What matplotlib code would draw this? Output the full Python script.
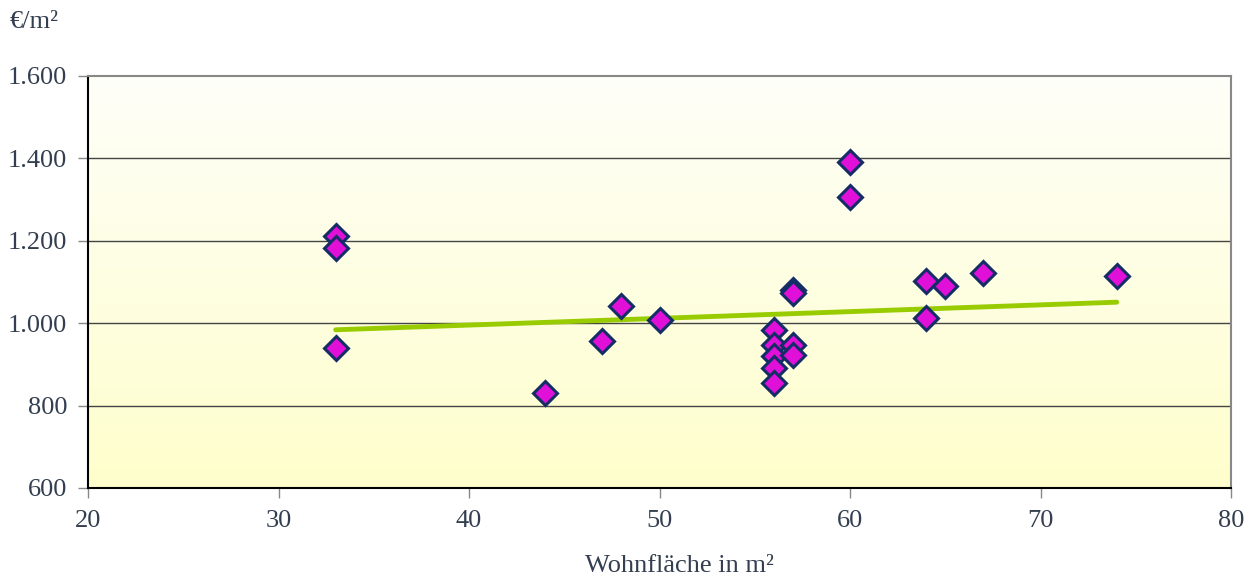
import numpy as np
import matplotlib
matplotlib.use("Agg")
import matplotlib.pyplot as plt
from matplotlib.colors import LinearSegmentedColormap

# Data: living area (m²) vs price (€/m²)
area = [33, 33, 33, 44, 47, 48, 50, 56, 56, 56, 56, 56, 57, 57, 57, 57, 60, 60, 64, 64, 65, 67, 74]
price = [1212, 1183, 940, 831, 957, 1042, 1008, 984, 947, 920, 891, 855, 947, 923, 1080, 1074,
         1391, 1306, 1102, 1013, 1090, 1122, 1115]
trend_x = [33, 74]
trend_y = [984, 1051]
xticks = [20, 30, 40, 50, 60, 70, 80]
yticks = [600, 800, 1000, 1200, 1400, 1600]
ytick_labels = ["600", "800", "1.000", "1.200", "1.400", "1.600"]

plt.rcParams['font.family'] = ['Liberation Serif', 'DejaVu Serif']
text_color = '#333f50'

fig = plt.figure(figsize=(12.55, 5.78), dpi=100)
ax = fig.add_axes([88/1255, 1-488/578, (1231-88)/1255, (488-76)/578])

# gradient background
cmap = LinearSegmentedColormap.from_list('bg', ['#fefef9', '#ffffcc'])
grad = np.linspace(0, 1, 256).reshape(-1, 1)
ax.imshow(grad, extent=[20, 80, 600, 1600], origin='upper', aspect='auto', cmap=cmap, zorder=0)

ax.set_xlim(20, 80)
ax.set_ylim(600, 1600)

for y in yticks[1:-1]:
    ax.axhline(y, color='#444444', lw=1.0, zorder=1)

ax.plot(trend_x, trend_y, color='#99cc00', lw=3.5, solid_capstyle='round', zorder=2)
ax.plot(area, price, linestyle='none', marker='D', markersize=12,
        markerfacecolor='#e010d8', markeredgecolor='#142d66', markeredgewidth=2.2, zorder=3)

ax.set_xticks(xticks)
ax.set_xticklabels([str(v) for v in xticks])
ax.set_yticks(yticks)
ax.set_yticklabels(ytick_labels)
ax.tick_params(axis='both', direction='out', length=7, width=1, color='#888888',
               labelsize=19, labelcolor=text_color)
ax.tick_params(axis='x', pad=9)
ax.tick_params(axis='y', pad=8)

ax.spines['left'].set_color('black')
ax.spines['bottom'].set_color('black')
ax.spines['top'].set_color('#888888')
ax.spines['right'].set_color('#888888')
for s in ax.spines.values():
    s.set_linewidth(1.5)

ax.set_xlabel('Wohnfläche in m²', fontsize=19, color=text_color)
ax.xaxis.set_label_coords((679-88)/1143, -(555-488)/412)
fig.text(10/1255, 1-22/578, '€/m²', fontsize=19, color=text_color, va='center', ha='left')

fig.savefig('out.png', dpi=100)
